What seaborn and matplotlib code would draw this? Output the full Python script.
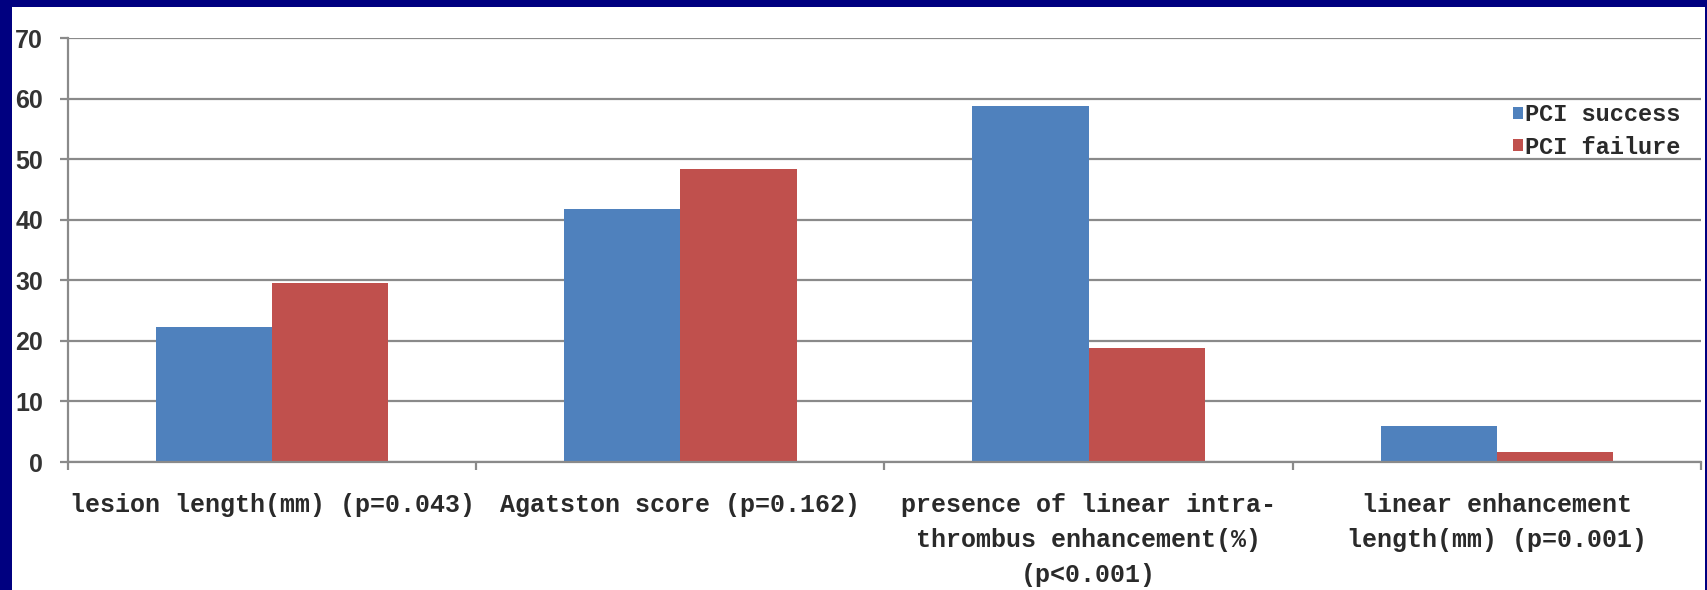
import matplotlib
matplotlib.use("Agg")
import matplotlib.pyplot as plt
import seaborn as sns
import pandas as pd
from matplotlib.patches import Rectangle
from matplotlib.ticker import FixedLocator

categories = [
    "lesion length(mm) (p=0.043)",
    "Agatston score (p=0.162)",
    "presence of linear intra-\nthrombus enhancement(%)\n(p<0.001)",
    "linear enhancement\nlength(mm) (p=0.001)",
]
series_names = ["PCI success", "PCI failure"]
pci_success = [22.3, 41.7, 58.8, 6.0]
pci_failure = [29.5, 48.4, 18.9, 1.6]
y_ticks = [0, 10, 20, 30, 40, 50, 60, 70]
colors = ["#4F81BD", "#C0504D"]

df = pd.DataFrame({
    "category": categories * 2,
    "group": [series_names[0]] * 4 + [series_names[1]] * 4,
    "value": pci_success + pci_failure,
})

sns.set_theme(style="white")
W, H = 1708, 590
fig = plt.figure(figsize=(W / 100, H / 100), dpi=100, facecolor="#000080")
# white panel inside navy frame
fig.patches.append(Rectangle((12 / W, 0), (1705 - 12) / W, 1 - 7 / H,
                             transform=fig.transFigure, facecolor="white",
                             edgecolor="none", zorder=-10))

ax = fig.add_axes([68 / W, 1 - 462 / H, (1701 - 68) / W, (462 - 38) / H])
ax.set_zorder(1)
ax.set_facecolor("white")

sns.barplot(data=df, x="category", y="value", hue="group", order=categories,
            hue_order=series_names, palette=colors, width=0.57, gap=0,
            saturation=1, errorbar=None, ax=ax, edgecolor="none", linewidth=0)

ax.set_ylim(0, 70)
ax.set_xlim(-0.5, len(categories) - 0.5)
ax.set_yticks(y_ticks)
ax.set_yticklabels([str(v) for v in y_ticks], fontfamily="Liberation Sans",
                   fontweight="bold", fontsize=18, color="#333333")
ax.yaxis.grid(True, color="#8a8a8a", linewidth=1.6)
ax.set_axisbelow(True)

for s in ["top", "right"]:
    ax.spines[s].set_visible(False)
for s in ["left", "bottom"]:
    ax.spines[s].set_color("#8a8a8a")
    ax.spines[s].set_linewidth(1.6)

ax.tick_params(axis="y", which="major", length=6, width=1.6, color="#8a8a8a",
               pad=12, left=True, direction="out")
ax.set_xticks(range(len(categories)))
ax.set_xticklabels(categories, fontfamily="Liberation Mono", fontsize=18,
                   fontweight="bold", color="#2a2a2a", linespacing=1.6,
                   va="top", ha="center")
ax.tick_params(axis="x", which="major", length=0, pad=22)
ax.xaxis.set_minor_locator(FixedLocator([-0.5, 0.5, 1.5, 2.5, 3.5]))
ax.tick_params(axis="x", which="minor", length=6, width=1.6, color="#8a8a8a",
               bottom=True, direction="out")

ax.set_xlabel("")
ax.set_ylabel("")

leg = ax.legend(loc="upper right", bbox_to_anchor=(0.989, 0.852), frameon=False,
                handlelength=0.42, handleheight=0.42, handletextpad=0.08,
                borderpad=0.1, borderaxespad=0, labelspacing=0.41,
                prop={"family": "Liberation Mono", "size": 17, "weight": "bold"})
for t in leg.get_texts():
    t.set_color("#2a2a2a")

fig.savefig("out.png", dpi=100, facecolor=fig.get_facecolor())
